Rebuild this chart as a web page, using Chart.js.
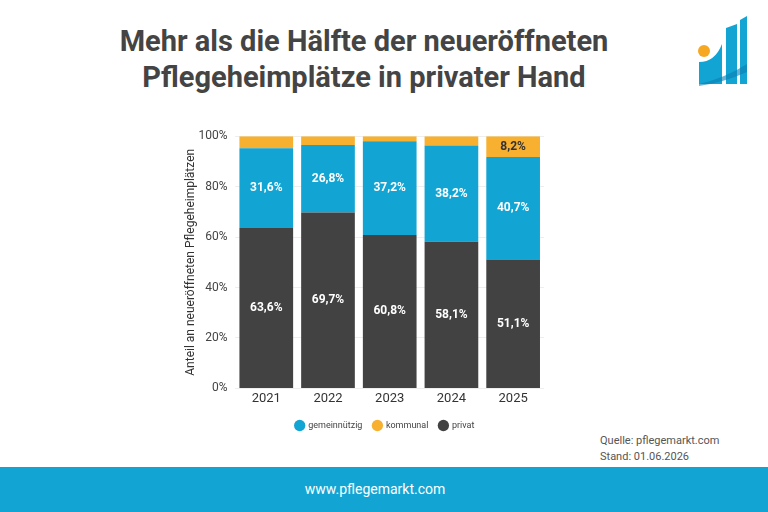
<!DOCTYPE html>
<html>
<head>
<meta charset="utf-8">
<script src="https://cdn.jsdelivr.net/npm/chart.js@4/dist/chart.umd.min.js"></script>
<style>
  html, body { margin: 0; padding: 0; }
  body { width: 768px; height: 512px; position: relative; background: #fff; font-family: Roboto, sans-serif; overflow: hidden; }
  #title { position: absolute; left: 0; top: 23px; width: 728px; text-align: center; font-size: 29px; font-weight: bold; color: #444; line-height: 36px; }
  #logo { position: absolute; left: 695px; top: 14px; }
  #chartBox { position: absolute; left: 176px; top: 121px; width: 418px; height: 319px; }
  #source { position: absolute; left: 600px; top: 433px; font-size: 11px; color: #555; line-height: 16px; }
  #footer { position: absolute; left: 0; top: 467px; width: 750px; height: 45px; padding-right: 18px; background: #12a5d4; color: #fff; text-align: center; font-size: 14px; line-height: 45px; }
</style>
</head>
<body>
<div id="title">Mehr als die Hälfte der neueröffneten<br>Pflegeheimplätze in privater Hand</div>
<svg id="logo" width="60" height="72" viewBox="0 0 60 72">
  <circle cx="9" cy="37" r="6" fill="#f7a823"/>
  <path d="M4 70 L4 48 Q20 48 27 30 L27 70 Z" fill="#12a5d4"/>
  <path d="M31 70 L31 14 L42 10 L42 70 Z" fill="#12a5d4"/>
  <path d="M45 70 L45 6 L52 2 L52 70 Z" fill="#12a5d4"/>
  <path d="M4 70 Q30 64 52 50 L52 58 Q30 68 4 72 Z" fill="#0b7fb0" opacity="0.6"/>
</svg>
<div id="chartBox"><canvas id="chart"></canvas></div>
<div id="source">Quelle: pflegemarkt.com<br>Stand: 01.06.2026</div>
<div id="footer">www.pflegemarkt.com</div>

<script>
// Werte in Prozent
const years = ['2021', '2022', '2023', '2024', '2025'];
const gemeinnuetzig = [31.6, 26.8, 37.2, 38.2, 40.7];
const kommunal = [4.8, 3.5, 2.0, 3.7, 8.2];
const privat = [63.6, 69.7, 60.8, 58.1, 51.1];
const yTicks = [0, 20, 40, 60, 80, 100];
const legendOrder = ['gemeinnützig', 'kommunal', 'privat'];

const fmt = v => v.toFixed(1).replace('.', ',') + '%';

// simple label plugin, no datalabels available offline
const barLabels = {
    id: 'barLabels',
    afterDatasetsDraw(chart) {
        const ctx = chart.ctx;
        ctx.save();
        ctx.font = 'bold 12px Roboto';
        ctx.textAlign = 'center';
        ctx.textBaseline = 'middle';
        chart.data.datasets.forEach((ds, i) => {
            const meta = chart.getDatasetMeta(i);
            meta.data.forEach((bar, j) => {
                const v = ds.data[j];
                if (v < 6) return;
                const y = (bar.y + bar.base) / 2;
                ctx.fillStyle = ds.labelColor;
                ctx.fillText(fmt(v), bar.x, y);
            });
        });
        ctx.restore();
    }
};

new Chart(document.getElementById('chart'), {
    type: 'bar',
    data: {
        labels: years,
        datasets: [
            { label: 'privat', data: privat, backgroundColor: '#424242', labelColor: '#fff' },
            { label: 'gemeinnützig', data: gemeinnuetzig, backgroundColor: '#12a5d4', labelColor: '#fff' },
            { label: 'kommunal', data: kommunal, backgroundColor: '#f7b030', labelColor: '#333' },
        ]
    },
    options: {
        responsive: true,
        maintainAspectRatio: false,
        animation: false,
        layout: { padding: { top: 6 } },
        datasets: { bar: { barPercentage: 0.87, categoryPercentage: 1 } },
        scales: {
            x: {
                stacked: true,
                grid: { display: false, drawTicks: false },
                border: { display: false },
                ticks: { color: '#333', padding: 3, font: { family: 'Roboto', size: 13 } }
            },
            y: {
                stacked: true,
                min: 0,
                max: 100,
                afterBuildTicks: axis => { axis.ticks = yTicks.map(v => ({ value: v })); },
                grid: { color: '#eeeeee', drawTicks: false },
                border: { display: false },
                ticks: { color: '#444', padding: 8, font: { family: 'Roboto', size: 12 }, callback: v => v + '%' },
                title: { display: true, text: 'Anteil an neueröffneten Pflegeheimplätzen', color: '#333', padding: { top: 8, bottom: -8 }, font: { family: 'Roboto', size: 12 } }
            },
            // empty right axis only to keep the legend centred like the original
            y2: {
                position: 'right',
                grid: { display: false },
                border: { display: false },
                ticks: { display: false },
                afterFit: axis => { axis.width = 50; }
            }
        },
        plugins: {
            legend: {
                position: 'bottom',
                labels: {
                    usePointStyle: true,
                    pointStyle: 'circle',
                    boxWidth: 8,
                    boxHeight: 8,
                    padding: 11,
                    color: '#444',
                    font: { family: 'Roboto', size: 9 },
                    sort: (a, b) => legendOrder.indexOf(a.text) - legendOrder.indexOf(b.text)
                }
            },
            tooltip: { enabled: false }
        }
    },
    plugins: [barLabels]
});
</script>
</body>
</html>
